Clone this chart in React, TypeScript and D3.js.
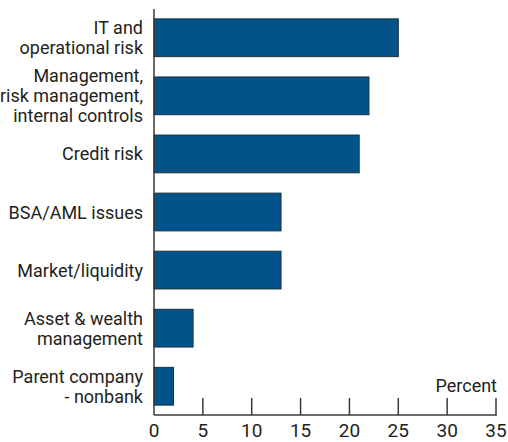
import React from "react";
import * as d3 from "d3";

const categories: string[][] = [
  ["IT and", "operational risk"],
  ["Management,", "risk management,", "internal controls"],
  ["Credit risk"],
  ["BSA/AML issues"],
  ["Market/liquidity"],
  ["Asset & wealth", "management"],
  ["Parent company", "- nonbank"],
];
const values: number[] = [25, 22, 21, 13, 13, 4, 2];
const xTicks: number[] = [0, 5, 10, 15, 20, 25, 30, 35];
const unitLabel = "Percent";

const W = 508;
const H = 442;
const left = 154;
const right = 496;
const top = 9;
const bottom = 415;
const FONT = "Roboto, 'Liberation Sans', Arial, sans-serif";

export default function App() {
  const x = d3.scaleLinear().domain([0, 35]).range([left, right]);
  const keys = categories.map((c, i) => String(i));
  const y = d3
    .scaleBand<string>()
    .domain(keys)
    .range([top, bottom])
    .paddingInner(0.35)
    .paddingOuter(0.17);

  const lineH = 20;

  return (
    <svg
      width={W}
      height={H}
      style={{ position: "absolute", left: 0, top: 0, background: "#fff" }}
      fontFamily={FONT}
    >
      {values.map((v, i) => {
        const y0 = y(keys[i])!;
        return (
          <rect
            key={i}
            x={x(0)}
            y={y0}
            width={x(v) - x(0)}
            height={y.bandwidth()}
            fill="#02538a"
            stroke="#1d2f3f"
            strokeWidth={1}
          />
        );
      })}
      {categories.map((lines, i) => {
        const cy = y(keys[i])! + y.bandwidth() / 2;
        const n = lines.length;
        return (
          <text key={i} textAnchor="end" fontSize={18} fill="#231f20">
            {lines.map((l, j) => (
              <tspan
                key={j}
                x={143}
                y={cy + (j - (n - 1) / 2) * lineH + 6.5}
              >
                {l}
              </tspan>
            ))}
          </text>
        );
      })}
      <line x1={left} x2={left} y1={top} y2={bottom} stroke="#3a3a3a" strokeWidth={1.5} />
      <line x1={left} x2={right + 0.75} y1={bottom} y2={bottom} stroke="#3a3a3a" strokeWidth={1.5} />
      {xTicks.map((t) => (
        <g key={t}>
          {t !== 0 && (
            <line x1={x(t)} x2={x(t)} y1={bottom} y2={bottom - 17} stroke="#3a3a3a" strokeWidth={1.5} />
          )}
          <text x={x(t)} y={437} textAnchor="middle" fontSize={19} fill="#231f20">
            {t}
          </text>
        </g>
      ))}
      <text x={497} y={392} textAnchor="end" fontSize={18} fill="#231f20">
        {unitLabel}
      </text>
    </svg>
  );
}
